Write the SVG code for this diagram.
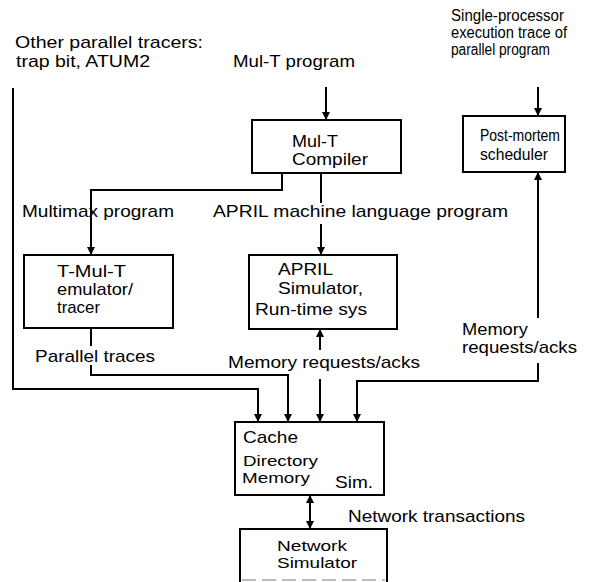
<svg xmlns="http://www.w3.org/2000/svg" width="613" height="582" viewBox="0 0 613 582">
<defs>
<marker id="ah" markerWidth="8" markerHeight="12" refX="7" refY="6" orient="auto" markerUnits="userSpaceOnUse" viewBox="0 0 8 12">
<path d="M0,2 L8,6 L0,10 z" fill="#000"/>
</marker>
<marker id="as" markerWidth="8" markerHeight="12" refX="1" refY="6" orient="auto" markerUnits="userSpaceOnUse" viewBox="0 0 8 12">
<path d="M8,2 L0,6 L8,10 z" fill="#000"/>
</marker>
<style>
.box{fill:#fff;stroke:#000;stroke-width:2}
.ln{fill:none;stroke:#000;stroke-width:2}
.ar{fill:none;stroke:#000;stroke-width:2;marker-end:url(#ah)}
text{font-family:"Liberation Sans",Arial,sans-serif;font-size:17px;fill:#000}
.sm{font-size:16px}
.tight{font-size:15px}
</style>
</defs>
<rect width="613" height="582" fill="#fff"/>
<g id="connectors">
<path class="ar" d="M13,88 V389 H258 V421"/>
<path class="ar" d="M326,87 V119"/>
<path class="ar" d="M282,173 V190 H91 V254"/>
<path class="ln" d="M321,173 V203"/>
<path class="ar" d="M321,224 V254"/>
<path class="ar" d="M538,87 V115"/>
<path class="ar" d="M538,318 V173"/>
<path class="ar" d="M538,363 V381 H357 V421"/>
<path class="ln" d="M91,328 V346"/>
<path class="ar" d="M91,365 V375 H288 V421"/>
<path class="ar" d="M320,350 V330"/>
<path class="ar" d="M320,379 V421"/>
<path class="ln" d="M310,496 V528" style="marker-start:url(#as);marker-end:url(#ah)"/>
</g>
<g id="labels">
<text x="15" y="48" textLength="188" lengthAdjust="spacingAndGlyphs">Other parallel tracers:</text>
<text x="16" y="67" textLength="134" lengthAdjust="spacingAndGlyphs">trap bit, ATUM2</text>
<text x="233" y="67" textLength="122" lengthAdjust="spacingAndGlyphs">Mul-T program</text>
<text class="sm" x="451" y="21" textLength="113" lengthAdjust="spacingAndGlyphs">Single-processor</text>
<text class="sm" x="451" y="38" textLength="116" lengthAdjust="spacingAndGlyphs">execution trace of</text>
<text class="sm" x="451" y="55" textLength="99" lengthAdjust="spacingAndGlyphs">parallel program</text>
<text x="22" y="217" textLength="152" lengthAdjust="spacingAndGlyphs">Multimax program</text>
<text x="213" y="217" textLength="295" lengthAdjust="spacingAndGlyphs">APRIL machine language program</text>
<text x="35" y="362" textLength="120" lengthAdjust="spacingAndGlyphs">Parallel traces</text>
<text x="228" y="368" textLength="192" lengthAdjust="spacingAndGlyphs">Memory requests/acks</text>
<text x="462" y="335" textLength="66" lengthAdjust="spacingAndGlyphs">Memory</text>
<text x="462" y="353" textLength="115" lengthAdjust="spacingAndGlyphs">requests/acks</text>
<text x="348" y="522" textLength="177" lengthAdjust="spacingAndGlyphs">Network transactions</text>
</g>
<g id="compiler">
<rect class="box" x="252" y="120" width="149" height="53"/>
<text x="292" y="147" textLength="46" lengthAdjust="spacingAndGlyphs">Mul-T</text>
<text x="292" y="165" textLength="76" lengthAdjust="spacingAndGlyphs">Compiler</text>
</g>
<g id="postmortem">
<rect class="box" x="463" y="116" width="102" height="56"/>
<text x="480" y="141" textLength="80" lengthAdjust="spacingAndGlyphs">Post-mortem</text>
<text x="480" y="160" textLength="68" lengthAdjust="spacingAndGlyphs">scheduler</text>
</g>
<g id="tmult">
<rect class="box" x="24" y="255" width="149" height="73"/>
<text x="57" y="277" textLength="69" lengthAdjust="spacingAndGlyphs">T-Mul-T</text>
<text x="57" y="295" textLength="76" lengthAdjust="spacingAndGlyphs">emulator/</text>
<text x="57" y="313" textLength="43" lengthAdjust="spacingAndGlyphs">tracer</text>
</g>
<g id="april">
<rect class="box" x="249" y="255" width="148" height="74"/>
<text x="278" y="275" textLength="55" lengthAdjust="spacingAndGlyphs">APRIL</text>
<text x="278" y="294" textLength="85" lengthAdjust="spacingAndGlyphs">Simulator,</text>
<text x="255" y="315" textLength="112" lengthAdjust="spacingAndGlyphs">Run-time sys</text>
</g>
<g id="cache">
<rect class="box" x="235" y="422" width="149" height="73"/>
<text x="243" y="443" textLength="55" lengthAdjust="spacingAndGlyphs">Cache</text>
<text class="tight" x="243" y="466" textLength="75" lengthAdjust="spacingAndGlyphs">Directory</text>
<text class="tight" x="242" y="483" textLength="68" lengthAdjust="spacingAndGlyphs">Memory</text>
<text x="335" y="488" textLength="38" lengthAdjust="spacingAndGlyphs">Sim.</text>
</g>
<g id="network">
<path class="ln" d="M240,582 V529 H387 V582"/>
<path d="M242,580 H385" stroke="#bbb" stroke-width="2" stroke-dasharray="14,6" fill="none"/>
<text class="tight" x="277" y="551" textLength="70" lengthAdjust="spacingAndGlyphs">Network</text>
<text class="tight" x="277" y="568" textLength="80" lengthAdjust="spacingAndGlyphs">Simulator</text>
</g>
</svg>
